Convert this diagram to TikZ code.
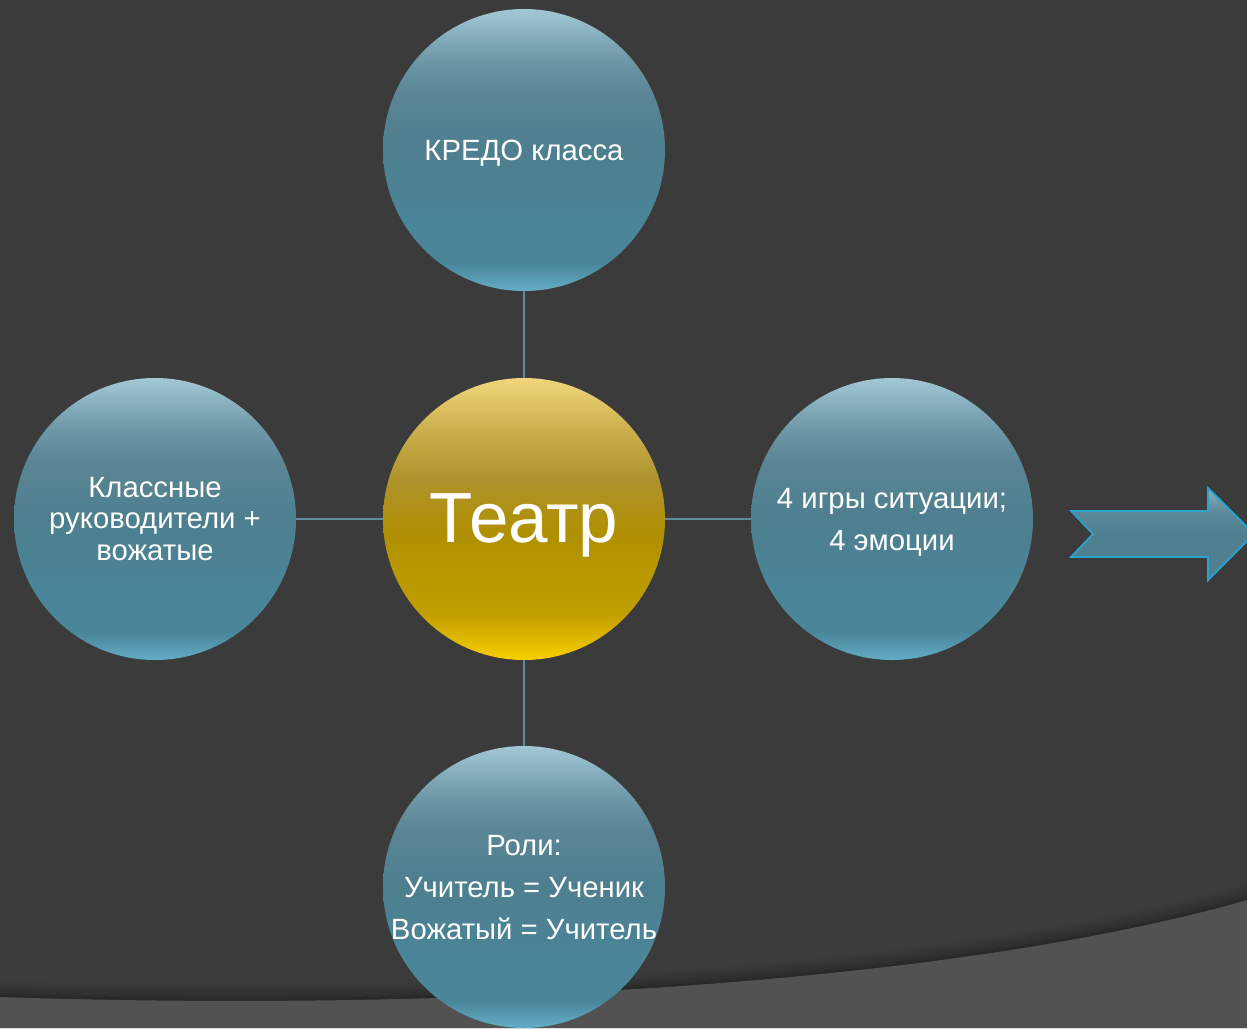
\documentclass[tikz,border=0pt]{standalone}
\usepackage{fontspec}
\setmainfont{Liberation Sans}
\definecolor{bgdark}{HTML}{3B3B3B}
\definecolor{bgband}{HTML}{525252}
\definecolor{connc}{HTML}{5E8C9B}
\definecolor{arrowline}{HTML}{2AA3CF}
\definecolor{b0}{HTML}{A2C8D6}
\definecolor{b1}{HTML}{6E98A6}
\definecolor{b2}{HTML}{5A8594}
\definecolor{b3}{HTML}{4E7F8F}
\definecolor{b4}{HTML}{4A8599}
\definecolor{b5}{HTML}{62AEC7}
\pgfdeclareverticalshading{bluecircle}{100bp}{
  color(0bp)=(b5); color(25bp)=(b5); color(30bp)=(b4); color(37bp)=(b4);
  color(50bp)=(b3); color(60bp)=(b2); color(66bp)=(b1); color(75bp)=(b0); color(100bp)=(b0)}
\definecolor{g0}{HTML}{F0D57C}
\definecolor{g1}{HTML}{CDB04E}
\definecolor{g2}{HTML}{AE922C}
\definecolor{g3}{HTML}{B09000}
\definecolor{g4}{HTML}{C2A000}
\definecolor{g5}{HTML}{F8CE00}
\pgfdeclareverticalshading{goldcircle}{100bp}{
  color(0bp)=(g5); color(25bp)=(g5); color(33bp)=(g4);
  color(47bp)=(g3); color(57bp)=(g2); color(66bp)=(g1); color(75bp)=(g0); color(100bp)=(g0)}
\definecolor{a0}{HTML}{8AB0BC}
\definecolor{a1}{HTML}{5C8898}
\definecolor{a2}{HTML}{4E8090}
\pgfdeclareverticalshading{arrowshade}{100bp}{
  color(0bp)=(a2); color(25bp)=(a2); color(50bp)=(a2); color(62bp)=(a1); color(75bp)=(a0); color(100bp)=(a0)}
\begin{document}
\begin{tikzpicture}[x=1pt,y=-1pt,
  bubble/.style={circle, draw=none, inner sep=0pt, minimum size=282pt, shading=bluecircle},
  hub/.style={bubble, shading=goldcircle},
  txt/.style={text=white, align=center, inner sep=0pt, font=\fontsize{29.3}{42}\selectfont},
  hubtxt/.style={txt, font=\fontsize{71}{80}\selectfont},
  conn/.style={draw=connc, line width=1.2pt},
  bigarrow/.style={draw=arrowline, line width=1.8pt, shading=arrowshade, line join=miter}]
\clip (0,0) rectangle (1247,1028);
\useasboundingbox (0,0) rectangle (1247,1028);
% background
\fill[bgdark] (0,0) rectangle (1247,1028);
\foreach \k/\o in {16/0.03,13/0.04,10/0.05,7/0.06,4/0.07,2/0.08}{
  \fill[black, opacity=\o] (0,997-\k) .. controls (450,1012-\k) and (950,985-\k) .. (1247,900-\k)
    -- (1247,1028) -- (0,1028) -- cycle;
}
\fill[bgband] (0,997) .. controls (450,1012) and (950,985) .. (1247,900)
  -- (1247,1028) -- (0,1028) -- cycle;
% circles
\node[hub] (center) at (524,519) {};
\node[bubble] (top) at (524,150) {};
\node[bubble] (left) at (155,519) {};
\node[bubble] (right) at (892,519) {};
\node[bubble] (bottom) at (524,887) {};
% texts
\node[hubtxt, yshift=-6pt] (centerT) at (center.center) {Театр};
\node[txt, yshift=-3pt] (topT) at (top.center) {КРЕДО класса};
\node[txt, font=\fontsize{29.3}{31.5}\selectfont] (leftT) at (left.center) {Классные\\руководители +\\вожатые};
\node[txt, yshift=-3pt] (rightT) at (right.center) {4 игры ситуации;\\4 эмоции};
\node[txt, yshift=-1pt] (bottomT) at (bottom.center) {Роли:\\Учитель = Ученик\\Вожатый = Учитель};
% connectors
\draw[conn] (top) -- (center);
\draw[conn] (left) -- (center);
\draw[conn] (right) -- (center);
\draw[conn] (bottom) -- (center);
% notched arrow
\path[bigarrow] (1071,511) -- (1208,511) -- (1208,488) -- (1254,534) -- (1208,580)
  -- (1208,557) -- (1071,557) -- (1093,534) -- cycle;
\end{tikzpicture}
\end{document}
